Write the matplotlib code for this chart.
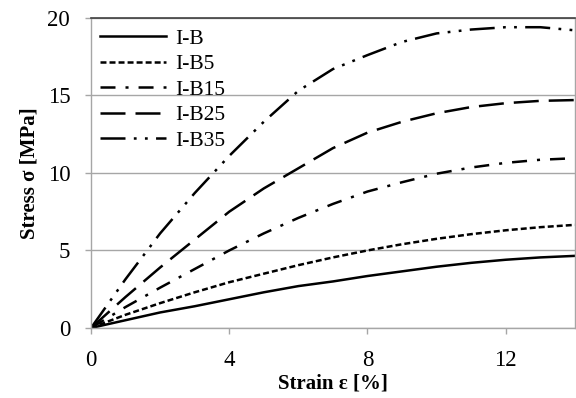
import numpy as np
import matplotlib.pyplot as plt

plt.rcParams['font.family'] = ['Liberation Serif', 'DejaVu Serif']
plt.rcParams['lines.scale_dashes'] = False

strain = [0, 1, 2, 3, 4, 5, 6, 7, 8, 9, 10, 11, 12, 13, 14]
stress_ib = [0, 0.5, 1.0, 1.4, 1.85, 2.3, 2.7, 3.0, 3.35, 3.65, 3.95, 4.2, 4.4, 4.55, 4.65]
stress_ib5 = [0, 0.85, 1.6, 2.3, 2.95, 3.5, 4.05, 4.55, 5.0, 5.4, 5.75, 6.05, 6.3, 6.5, 6.65]
stress_ib15 = [0, 1.35, 2.6, 3.8, 5.0, 6.1, 7.1, 8.0, 8.8, 9.4, 9.95, 10.35, 10.65, 10.85, 10.95]
stress_ib25 = [0, 2.0, 3.9, 5.7, 7.5, 9.0, 10.3, 11.6, 12.6, 13.3, 13.85, 14.25, 14.5, 14.65, 14.7]
stress_ib35 = [0, 3.15, 6.1, 8.7, 11.1, 13.3, 15.3, 16.7, 17.6, 18.45, 19.0, 19.25, 19.4, 19.4, 19.2]

labels = ['I-B', 'I-B5', 'I-B15', 'I-B25', 'I-B35']
series = [stress_ib, stress_ib5, stress_ib15, stress_ib25, stress_ib35]
styles = ['-', (0, (4.3, 2.2)), (0, (10.8, 7.2, 2.2, 7.2)),
          (0, (18, 7.2)), (0, (18, 6, 2, 6, 2, 6))]

fig = plt.figure(figsize=(5.76, 3.98), dpi=100)
ax = fig.add_axes([0.158, 0.176, 0.84, 0.779])

for y, lab, ls in zip(series, labels, styles):
    ax.plot(strain, y, color='black', lw=1.8, linestyle=ls, label=lab,
            dash_capstyle='butt', solid_joinstyle='round', dash_joinstyle='round')

ax.set_xlim(0, 14)
ax.set_ylim(0, 20)
ax.set_xticks([0, 4, 8, 12])
ax.set_yticks([0, 5, 10, 15, 20])
ax.yaxis.grid(True, color='#a6a6a6', lw=1.0)
ax.set_axisbelow(True)

grey = '#a6a6a6'
for side in ['left', 'right', 'bottom']:
    ax.spines[side].set_color(grey)
    ax.spines[side].set_linewidth(1.0)
ax.spines['top'].set_color('#404040')
ax.spines['top'].set_linewidth(1.2)
ax.tick_params(axis='both', direction='out', length=4, width=1.0, color=grey,
               labelsize=16.5)
ax.tick_params(axis='y', pad=11)
ax.tick_params(axis='x', pad=12)

ax.set_xlabel('Strain ε [%]', fontsize=15, fontweight='bold', labelpad=2)
ax.set_ylabel('Stress σ [MPa]', fontsize=15, fontweight='bold', labelpad=6)

ax.legend(loc='upper left', frameon=False, fontsize=15.5, handlelength=3.1,
          handletextpad=0.42, labelspacing=0.25, borderaxespad=0.0,
          bbox_to_anchor=(0.0, 0.993))

fig.savefig('out.png', dpi=100)
